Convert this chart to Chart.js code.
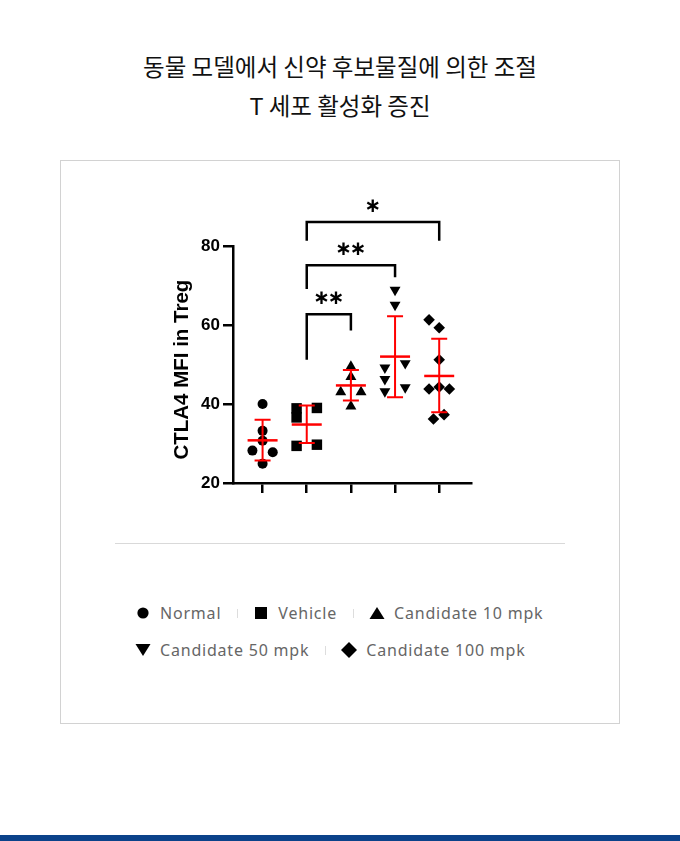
<!DOCTYPE html>
<html><head><meta charset="utf-8">
<script src="https://cdn.jsdelivr.net/npm/chart.js@4.4.1/dist/chart.umd.min.js"></script>
<style>
html,body{margin:0;padding:0;background:#fff;}
body{width:680px;height:841px;position:relative;overflow:hidden;font-family:"Noto Sans",sans-serif;}
#title{position:absolute;left:0;top:47px;width:680px;text-align:center;font-family:"Noto Sans CJK KR",sans-serif;font-size:23.5px;line-height:39px;color:#111;}
#box{position:absolute;left:60px;top:160px;width:558px;height:562px;border:1px solid #d2d2d2;}
#wrap{position:absolute;left:150px;top:180px;width:340px;height:320px;}
#divider{position:absolute;left:115px;top:543px;width:450px;height:1px;background:#d9d9d9;}
.lrow{position:absolute;left:133px;height:24px;display:flex;align-items:center;font-size:16px;color:#666;letter-spacing:0.8px;white-space:nowrap;}
.item{display:flex;align-items:center;}
.item svg{margin-right:7px;display:block;}
.sep{width:1px;height:9px;background:#ddd;margin:0 13px 0 16px;}
#bar{position:absolute;left:0;top:835px;width:680px;height:6px;background:#0b428a;}
</style></head><body>
<div id="title">동물 모델에서 신약 후보물질에 의한 조절<br>T 세포 활성화 증진</div>
<div id="box"></div>
<div id="wrap"><canvas id="c" width="340" height="320"></canvas></div>
<div id="divider"></div>
<div class="lrow" id="row0" style="top:601px"></div>
<div class="lrow" id="row1" style="top:638px"></div>
<div id="bar"></div>
<script>
// ---- data ----
const categories = ["Normal", "Vehicle", "Candidate 10 mpk", "Candidate 50 mpk", "Candidate 100 mpk"];
const normalValues = [40.0, 33.2, 30.7, 28.2, 27.8, 24.9];
const normalJitter = [0, 0, 0, -0.23, 0.23, 0];
const vehicleValues = [38.9, 36.6, 39.0, 29.4, 29.7];
const vehicleJitter = [-0.23, -0.23, 0.23, -0.23, 0.23];
const cand10Values = [49.5, 46.9, 43.0, 43.0, 39.4];
const cand10Jitter = [0, 0, -0.23, 0.23, 0];
const cand50Values = [68.9, 65.1, 49.2, 46.3, 43.2, 50.3, 44.2];
const cand50Jitter = [0, 0, -0.23, -0.23, -0.23, 0.23, 0.23];
const cand100Values = [61.3, 59.3, 51.2, 43.8, 44.3, 43.8, 36.2, 37.3];
const cand100Jitter = [-0.23, 0, 0, -0.23, 0, 0.23, -0.13, 0.11];
const meanValues = [30.8, 34.8, 44.7, 52.0, 47.1];
const errUpper = [36.0, 39.6, 48.6, 62.2, 56.5];
const errLower = [25.7, 30.1, 40.9, 41.7, 37.9];
const yTicks = [20, 40, 60, 80];
const xTickValues = [0, 1, 2, 3, 4];
const bracketFrom = [1, 1, 1];
const bracketTo = [2, 3, 4];
const bracketTop = [62.7, 75.1, 86.1];
const bracketLegLeft = [51.2, 69.1, 81.3];
const bracketLegRight = [58.6, 72.1, 81.3];
const bracketLabels = ["**", "**", "*"];
const yTitle = "CTLA4 MFI in Treg";
const legendRows = [[0, 1, 2], [3, 4]];

// ---- styles ----
const pointStyles = ['circle', 'rect', 'triangle', 'triangle', 'rectRot'];
const pointRotations = [0, 0, 0, 180, 0];
const pointRadii = [5, 7.4, 6.3, 6.3, 5.8];
const groupValues = [normalValues, vehicleValues, cand10Values, cand50Values, cand100Values];
const groupJitter = [normalJitter, vehicleJitter, cand10Jitter, cand50Jitter, cand100Jitter];

const datasets = groupValues.map((vals, i) => ({
  label: categories[i],
  data: vals.map((y, k) => ({x: i + groupJitter[i][k], y: y})),
  pointStyle: pointStyles[i],
  rotation: pointRotations[i],
  pointRadius: pointRadii[i],
  pointHoverRadius: pointRadii[i],
  backgroundColor: '#000',
  borderColor: '#000',
  borderWidth: 0,
  showLine: false
}));

const errorBarPlugin = {
  id: 'errorBars',
  afterDatasetsDraw(chart) {
    const {ctx, scales: {x, y}} = chart;
    ctx.save();
    ctx.strokeStyle = '#ff0000';
    meanValues.forEach((m, i) => {
      const px = x.getPixelForValue(i);
      const yu = y.getPixelForValue(errUpper[i]);
      const yl = y.getPixelForValue(errLower[i]);
      const ym = y.getPixelForValue(m);
      ctx.lineWidth = 2;
      ctx.beginPath();
      ctx.moveTo(px, yu); ctx.lineTo(px, yl);
      ctx.moveTo(px - 8, yu); ctx.lineTo(px + 8, yu);
      ctx.moveTo(px - 8, yl); ctx.lineTo(px + 8, yl);
      ctx.stroke();
      ctx.lineWidth = 2.5;
      ctx.beginPath();
      ctx.moveTo(px - 15, ym); ctx.lineTo(px + 15, ym);
      ctx.stroke();
    });
    ctx.restore();
  }
};

const bracketPlugin = {
  id: 'brackets',
  afterDraw(chart) {
    const {ctx, scales: {x, y}} = chart;
    ctx.save();
    ctx.strokeStyle = '#000';
    ctx.lineWidth = 2.5;
    ctx.lineCap = 'butt';
    ctx.lineJoin = 'miter';
    bracketFrom.forEach((f, i) => {
      const x1 = x.getPixelForValue(f);
      const x2 = x.getPixelForValue(bracketTo[i]);
      const yt = y.getPixelForValue(bracketTop[i]);
      ctx.beginPath();
      ctx.moveTo(x1, y.getPixelForValue(bracketLegLeft[i]));
      ctx.lineTo(x1, yt);
      ctx.lineTo(x2, yt);
      ctx.lineTo(x2, y.getPixelForValue(bracketLegRight[i]));
      ctx.stroke();
      const label = bracketLabels[i];
      const cx = (x1 + x2) / 2;
      const cy = yt - 15.5;
      ctx.fillStyle = '#000';
      ctx.font = 'bold 20px "DejaVu Sans"';
      ctx.textAlign = 'center';
      ctx.textBaseline = 'middle';
      const n = label.length;
      const gap = 14.5;
      for (let k = 0; k < n; k++) {
        const sx = cx + (k - (n - 1) / 2) * gap;
        ctx.fillText('\u2217', sx, cy);
      }
    });
    ctx.restore();
  }
};

const axisGrid = {display: true, drawOnChartArea: false, drawTicks: true, tickLength: 10, color: '#000', lineWidth: 2.5};
const axisBorder = {display: true, color: '#000', width: 2.5};

new Chart(document.getElementById('c'), {
  type: 'scatter',
  data: {datasets},
  options: {
    responsive: false,
    animation: false,
    events: [],
    layout: {padding: {top: 66, right: 19, left: 0, bottom: 0}},
    plugins: {legend: {display: false}, tooltip: {enabled: false}},
    scales: {
      x: {
        type: 'linear', min: -0.67, max: 4.72,
        afterBuildTicks: s => { s.ticks = xTickValues.map(v => ({value: v})); },
        ticks: {display: false},
        grid: axisGrid, border: axisBorder,
        afterFit: s => { s.height = 17; }
      },
      y: {
        type: 'linear', min: 20, max: 80,
        afterBuildTicks: s => { s.ticks = yTicks.map(v => ({value: v})); },
        ticks: {color: '#000', padding: 3, font: {family: '"Liberation Sans"', size: 17, weight: 'bold'}},
        grid: axisGrid, border: axisBorder,
        title: {display: true, text: yTitle + '\u2002', color: '#000', padding: {top: 20, bottom: 0}, font: {family: '"Liberation Sans"', size: 20.5, weight: 'bold'}},
        afterFit: s => { s.width = 83; }
      }
    }
  },
  plugins: [errorBarPlugin, bracketPlugin]
});

// ---- legend (HTML) ----
const markerSvg = {
  circle: '<circle cx="10" cy="8" r="5.6" fill="#000"/>',
  rect: '<rect x="4" y="2" width="12" height="12" fill="#000"/>',
  triangle: '<polygon points="10,2 17.5,14 2.5,14" fill="#000"/>',
  triangleDown: '<polygon points="2.5,2 17.5,2 10,14" fill="#000"/>',
  rectRot: '<polygon points="10,0 18,8 10,16 2,8" fill="#000"/>'
};
const legendMarkers = ['circle', 'rect', 'triangle', 'triangleDown', 'rectRot'];
legendRows.forEach((row, r) => {
  const el = document.getElementById('row' + r);
  row.forEach((idx, k) => {
    if (k > 0) { const s = document.createElement('div'); s.className = 'sep'; el.appendChild(s); }
    const it = document.createElement('div');
    it.className = 'item';
    it.innerHTML = '<svg width="20" height="16" viewBox="0 0 20 16">' + markerSvg[legendMarkers[idx]] + '</svg><span>' + categories[idx] + '</span>';
    el.appendChild(it);
  });
});
</script>
</body></html>
